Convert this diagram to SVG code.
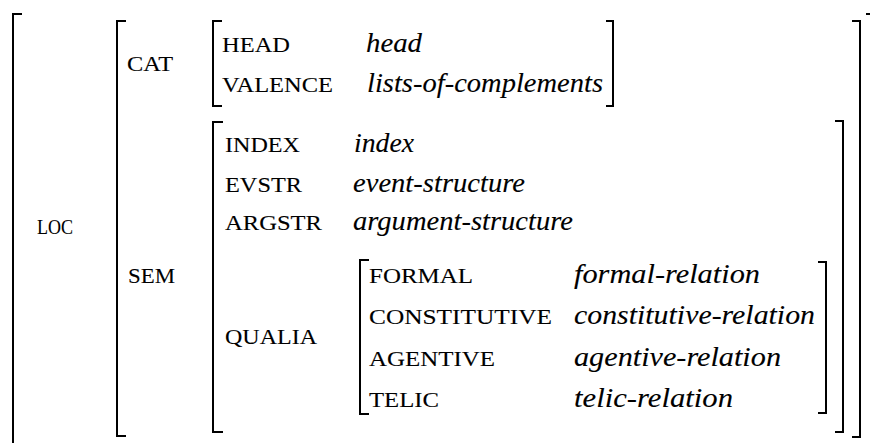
<svg xmlns="http://www.w3.org/2000/svg" width="870" height="443" viewBox="0 0 870 443">
<style>
.br{fill:none;stroke:#000;stroke-width:2;stroke-linecap:butt;stroke-linejoin:miter}
.f{font-family:"Liberation Serif","Times New Roman",serif;font-size:22px;fill:#000;stroke:#000;stroke-width:0.1}
.v{font-family:"Liberation Serif","Times New Roman",serif;font-size:27px;font-style:italic;fill:#000;stroke:#000;stroke-width:0.1}
</style>
<rect width="870" height="443" fill="#fff"/>
<g id="brackets">
<path class="br" d="M22,14 H13 V443"/>
<path class="br" d="M866,14 H870"/>
<path class="br" d="M126,21 H117 V436 H126"/>
<path class="br" d="M852,21 H860 V437 H852"/>
<path class="br" d="M222,21 H213 V106 H222"/>
<path class="br" d="M606,21 H613 V106 H606"/>
<path class="br" d="M223,122 H213 V432 H223"/>
<path class="br" d="M835,121 H843 V432 H835"/>
<path class="br" d="M369,260 H360 V414 H369"/>
<path class="br" d="M818,262 H826 V413 H818"/>
</g>
<g id="loc">
<text class="f" x="37" y="234" textLength="36" lengthAdjust="spacingAndGlyphs">LOC</text>
</g>
<g id="cat">
<text class="f" x="127" y="71" textLength="46" lengthAdjust="spacingAndGlyphs">CAT</text>
<text class="f" x="222" y="52" textLength="68" lengthAdjust="spacingAndGlyphs">HEAD</text>
<text class="v" x="366" y="52" textLength="56" lengthAdjust="spacingAndGlyphs">head</text>
<text class="f" x="222" y="92" textLength="111" lengthAdjust="spacingAndGlyphs">VALENCE</text>
<text class="v" x="367" y="92" textLength="236" lengthAdjust="spacingAndGlyphs">lists-of-complements</text>
</g>
<g id="sem">
<text class="f" x="128" y="283" textLength="47" lengthAdjust="spacingAndGlyphs">SEM</text>
<text class="f" x="225" y="152" textLength="75" lengthAdjust="spacingAndGlyphs">INDEX</text>
<text class="v" x="354" y="152" textLength="60" lengthAdjust="spacingAndGlyphs">index</text>
<text class="f" x="225" y="192" textLength="77" lengthAdjust="spacingAndGlyphs">EVSTR</text>
<text class="v" x="353" y="192" textLength="172" lengthAdjust="spacingAndGlyphs">event-structure</text>
<text class="f" x="225" y="230" textLength="97" lengthAdjust="spacingAndGlyphs">ARGSTR</text>
<text class="v" x="353" y="230" textLength="220" lengthAdjust="spacingAndGlyphs">argument-structure</text>
</g>
<g id="qualia">
<text class="f" x="225" y="344" textLength="92" lengthAdjust="spacingAndGlyphs">QUALIA</text>
<text class="f" x="369" y="283" textLength="104" lengthAdjust="spacingAndGlyphs">FORMAL</text>
<text class="v" x="574" y="283" textLength="186" lengthAdjust="spacingAndGlyphs">formal-relation</text>
<text class="f" x="369" y="324" textLength="183" lengthAdjust="spacingAndGlyphs">CONSTITUTIVE</text>
<text class="v" x="574" y="324" textLength="241" lengthAdjust="spacingAndGlyphs">constitutive-relation</text>
<text class="f" x="369" y="366" textLength="126" lengthAdjust="spacingAndGlyphs">AGENTIVE</text>
<text class="v" x="574" y="366" textLength="207" lengthAdjust="spacingAndGlyphs">agentive-relation</text>
<text class="f" x="369" y="407" textLength="70" lengthAdjust="spacingAndGlyphs">TELIC</text>
<text class="v" x="574" y="407" textLength="159" lengthAdjust="spacingAndGlyphs">telic-relation</text>
</g>
<g id="connectors"></g>
</svg>
